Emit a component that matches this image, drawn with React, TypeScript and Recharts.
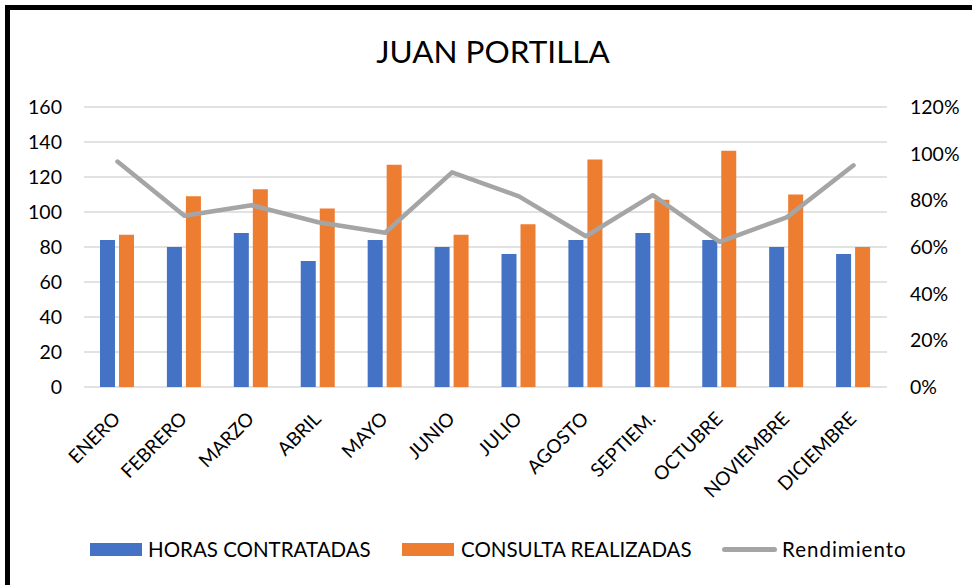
import React from 'react';
import { ComposedChart, Bar, Line, XAxis, YAxis, CartesianGrid } from 'recharts';

const months = ['ENERO', 'FEBRERO', 'MARZO', 'ABRIL', 'MAYO', 'JUNIO', 'JULIO', 'AGOSTO', 'SEPTIEM.', 'OCTUBRE', 'NOVIEMBRE', 'DICIEMBRE'];
const horasContratadas = [84, 80, 88, 72, 84, 80, 76, 84, 88, 84, 80, 76];
const consultaRealizadas = [87, 109, 113, 102, 127, 87, 93, 130, 107, 135, 110, 80];
const rendimiento = [0.966, 0.734, 0.779, 0.706, 0.661, 0.92, 0.817, 0.646, 0.822, 0.622, 0.727, 0.95];
const leftTicks = [0, 20, 40, 60, 80, 100, 120, 140, 160];
const rightTicks = [0, 0.2, 0.4, 0.6, 0.8, 1.0, 1.2];

const data = months.map((m, i) => ({
  mes: m,
  horas: horasContratadas[i],
  consulta: consultaRealizadas[i],
  rend: rendimiento[i],
}));

const FONT = 'Lato, "Open Sans", sans-serif';
const BLUE = '#4472C4';
const ORANGE = '#ED7D31';
const GRAY = '#A5A5A5';

const MonthTick = (props: any) => {
  const { x, payload } = props;
  const ax = x + 4;
  const ay = 420;
  return (
    <text
      x={ax}
      y={ay}
      transform={`rotate(-45, ${ax}, ${ay})`}
      textAnchor="end"
      fill="#000"
      fontSize={19}
      fontFamily={FONT}
    >
      {payload.value}
    </text>
  );
};

export default function App() {
  return (
    <div style={{ position: 'absolute', left: 0, top: 0, width: 972, height: 585, overflow: 'hidden', background: '#fff', fontFamily: FONT }}>
      <div style={{ position: 'absolute', left: 5, top: 5, width: 1000, height: 700, borderLeft: '5px solid #000', borderTop: '5px solid #000', boxSizing: 'border-box' }} />
      <div style={{ position: 'absolute', left: 0, width: 986, top: 31, textAlign: 'center', fontSize: 31.5, color: '#000', lineHeight: '40px' }}>
        JUAN PORTILLA
      </div>
      <div style={{ position: 'absolute', left: 0, top: 0 }}>
        <ComposedChart
          width={972}
          height={585}
          data={data}
          margin={{ top: 107, right: 0, bottom: 0, left: 0 }}
          barSize={15}
          barGap={4}
        >
          <CartesianGrid horizontal={true} vertical={false} stroke="#D9D9D9" strokeWidth={1.3} yAxisId="left" />
          <XAxis
            dataKey="mes"
            height={198}
            axisLine={false}
            tickLine={false}
            interval={0}
            tick={<MonthTick />}
          />
          <YAxis
            yAxisId="left"
            orientation="left"
            width={84}
            domain={[0, 160]}
            ticks={leftTicks}
            axisLine={false}
            tickLine={false}
            tickMargin={16}
            tick={{ fill: '#000', fontSize: 19.5, fontFamily: FONT }}
          />
          <YAxis
            yAxisId="right"
            orientation="right"
            width={85}
            domain={[0, 1.2]}
            ticks={rightTicks}
            axisLine={false}
            tickLine={false}
            tickMargin={17}
            tickFormatter={(v: number) => `${Math.round(v * 100)}%`}
            tick={{ fill: '#000', fontSize: 19.5, fontFamily: FONT, textAnchor: 'start' }}
          />
          <Bar yAxisId="left" dataKey="horas" fill={BLUE} isAnimationActive={false} />
          <Bar yAxisId="left" dataKey="consulta" fill={ORANGE} isAnimationActive={false} />
          <Line
            yAxisId="right"
            dataKey="rend"
            stroke={GRAY}
            strokeWidth={4.5}
            dot={false}
            activeDot={false}
            strokeLinejoin="round"
            strokeLinecap="round"
            isAnimationActive={false}
          />
        </ComposedChart>
      </div>
      <div style={{ position: 'absolute', left: 0, top: 537, height: 24, fontSize: 20.5, color: '#000' }}>
        <div style={{ position: 'absolute', left: 90, top: 6, width: 52, height: 13, background: BLUE }} />
        <div style={{ position: 'absolute', left: 148, top: 0, whiteSpace: 'nowrap', lineHeight: '24px' }}>HORAS CONTRATADAS</div>
        <div style={{ position: 'absolute', left: 402, top: 6, width: 52, height: 13, background: ORANGE }} />
        <div style={{ position: 'absolute', left: 461, top: 0, whiteSpace: 'nowrap', lineHeight: '24px' }}>CONSULTA REALIZADAS</div>
        <div style={{ position: 'absolute', left: 722, top: 10, width: 55, height: 5, borderRadius: 2.5, background: GRAY }} />
        <div style={{ position: 'absolute', left: 782, top: 0, whiteSpace: 'nowrap', lineHeight: '24px', letterSpacing: 1 }}>Rendimiento</div>
      </div>
    </div>
  );
}
